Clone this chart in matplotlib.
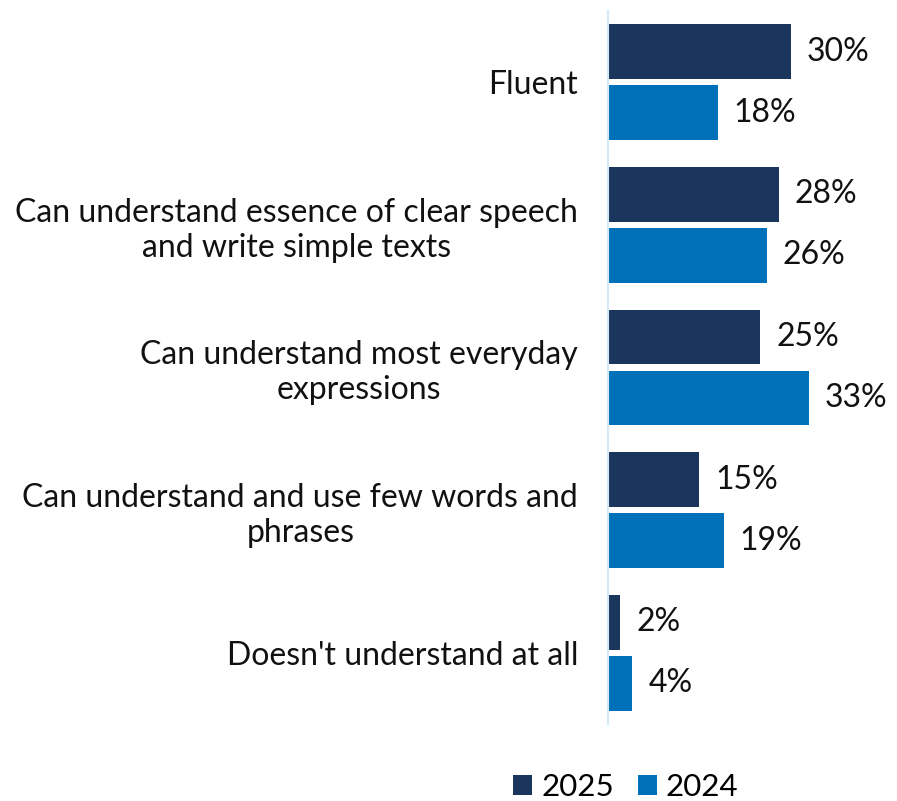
import matplotlib.pyplot as plt
import numpy as np

plt.rcParams['font.family'] = ['Lato', 'DejaVu Sans']

categories = [
    "Fluent",
    "Can understand essence of clear speech\nand write simple texts",
    "Can understand most everyday\nexpressions",
    "Can understand and use few words and\nphrases",
    "Doesn't understand at all",
]
vals_2025 = [30, 28, 25, 15, 2]
vals_2024 = [18, 26, 33, 19, 4]

c_2025 = '#1a365d'
c_2024 = '#0070b8'

fig = plt.figure(figsize=(8.97, 8.01), dpi=100)
ax = fig.add_axes([608 / 897, 77 / 801, 289 / 897, 713 / 801])

y = np.arange(len(categories))
h = 0.385
off = 0.214
b1 = ax.barh(y - off, vals_2025, height=h, color=c_2025, label='2025')
b2 = ax.barh(y + off, vals_2024, height=h, color=c_2024, label='2024')

for bars, vals in ((b1, vals_2025), (b2, vals_2024)):
    for bar, v in zip(bars, vals):
        ax.text(v + 2.6, bar.get_y() + bar.get_height() / 2, f'{v}%',
                va='center', ha='left', fontsize=23, color='#111111')

ax.set_xlim(0, 47.4)
ax.set_ylim(4.5, -0.5)
ax.set_yticks(y)
ax.set_yticklabels(categories, fontsize=23, color='#111111', ha='right')
for lbl in ax.get_yticklabels():
    lbl.set_multialignment('center')
ax.tick_params(axis='y', length=0, pad=21.5)
ax.set_xticks([])
for s in ['top', 'right', 'bottom']:
    ax.spines[s].set_visible(False)
ax.spines['left'].set_color('#d6e9f8')
ax.spines['left'].set_linewidth(1.5)

fig.legend(handles=[b1, b2], labels=['2025', '2024'], loc='center',
           bbox_to_anchor=(626 / 897, 1 - 787 / 801), ncol=2, frameon=False,
           fontsize=22.5, handlelength=0.6, handleheight=0.6, handletextpad=0.3,
           columnspacing=0.75)

fig.savefig('out.png', dpi=100)
